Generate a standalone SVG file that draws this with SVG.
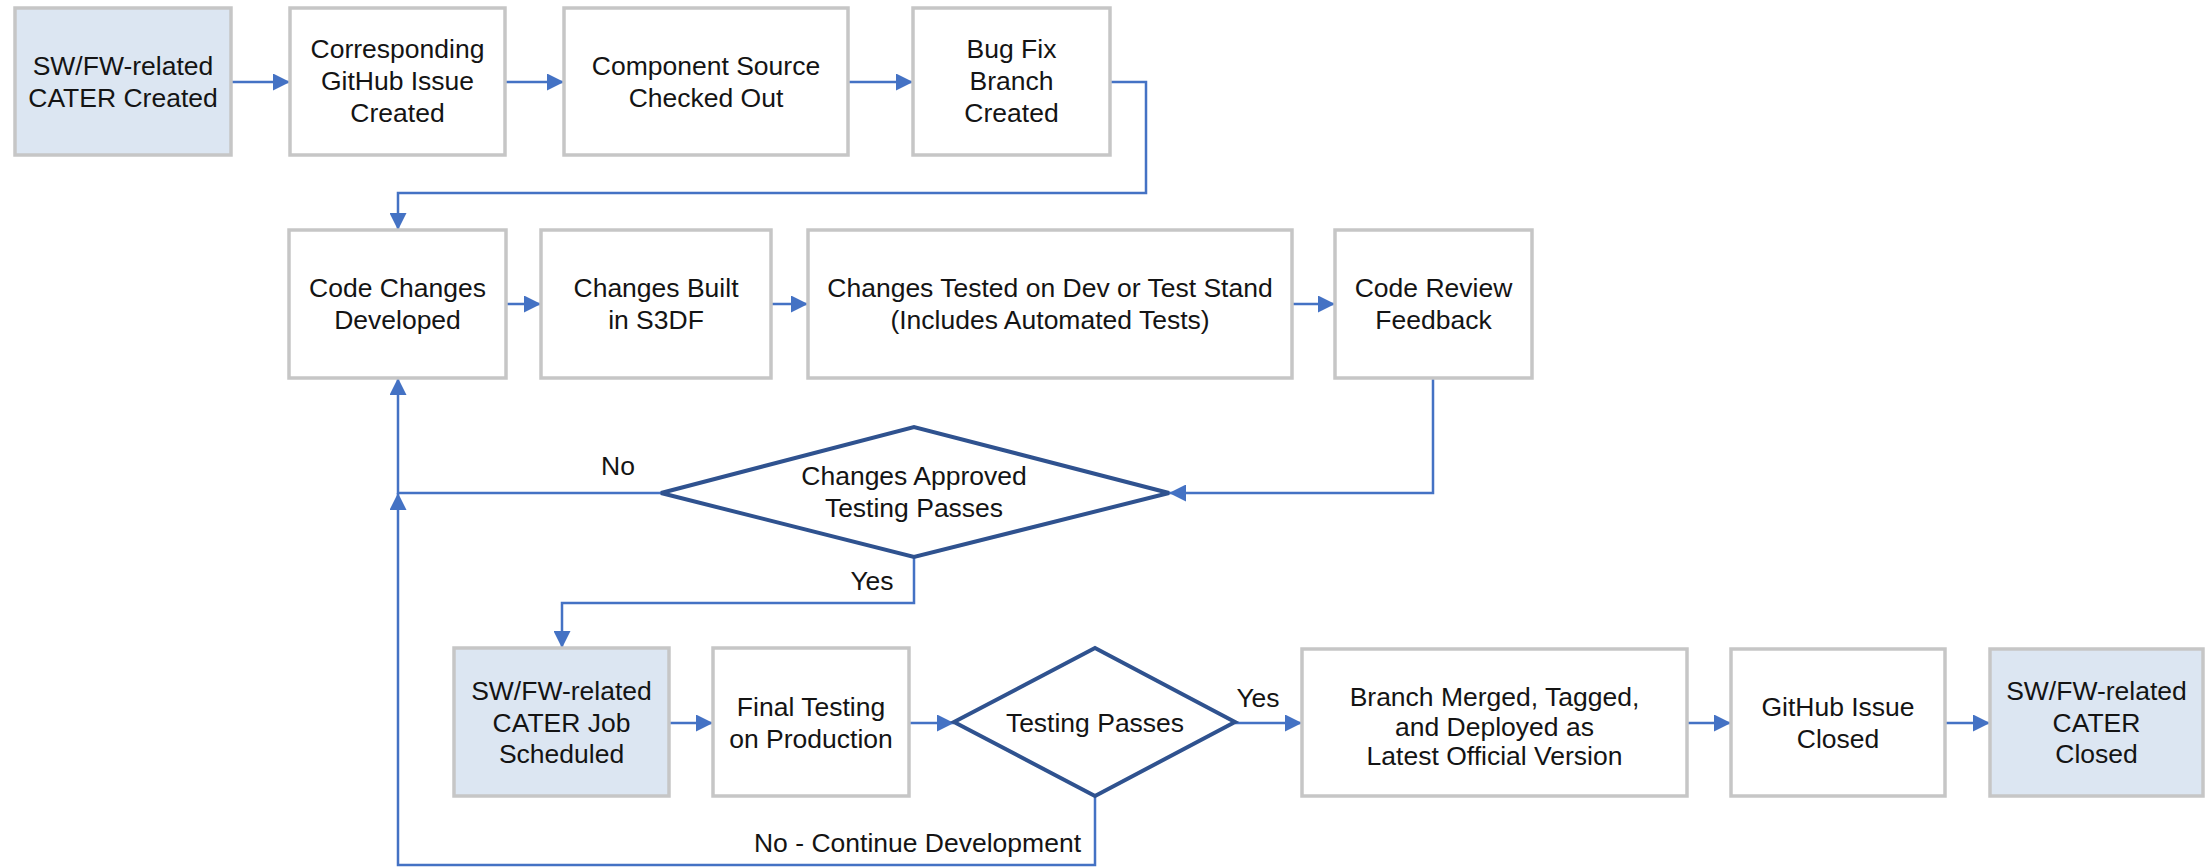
<svg xmlns="http://www.w3.org/2000/svg" width="2211" height="867" viewBox="0 0 2211 867">
  <style>
    .box { fill: #ffffff; stroke: #c6c6c6; stroke-width: 3.5; }
    .start { fill: #dce6f2; }
    .dec { fill: #ffffff; stroke: #2f528f; stroke-width: 4; stroke-linejoin: miter; }
    .lbl { font-family: "Liberation Sans", Arial, sans-serif; font-size: 26.5px; fill: #141414; text-anchor: middle; }
    .edge { fill: none; stroke: #4472c4; stroke-width: 2.5; }
    .arr { marker-end: url(#head); }
  </style>
  <defs>
    <marker id="head" markerUnits="userSpaceOnUse" markerWidth="17" markerHeight="17" refX="17" refY="8.5" orient="auto">
      <path d="M0,0 L17,8.5 L0,17 z" fill="#4472c4"/>
    </marker>
  </defs>
  <rect width="2211" height="867" fill="#ffffff"/>

  <!-- connectors -->
  <g id="connectors">
    <path class="edge arr" d="M231,82 H290"/>
    <path class="edge arr" d="M505,82 H564"/>
    <path class="edge arr" d="M848,82 H913"/>
    <path class="edge arr" d="M1110,82 H1146 V193 H398 V230"/>
    <path class="edge arr" d="M506,304 H541"/>
    <path class="edge arr" d="M771,304 H808"/>
    <path class="edge arr" d="M1292,304 H1335"/>
    <path class="edge arr" d="M1433,378 V493 H1169"/>
    <path class="edge arr" d="M661,493 H398 V378"/>
    <path class="edge arr" d="M914,557 V603 H562 V648"/>
    <path class="edge arr" d="M669,723 H713"/>
    <path class="edge arr" d="M909,723 H954"/>
    <path class="edge arr" d="M1235,723 H1302"/>
    <path class="edge arr" d="M1687,723 H1731"/>
    <path class="edge arr" d="M1945,723 H1990"/>
    <path class="edge arr" d="M1095,796 V865 H398 V493"/>
    <text class="lbl" x="618" y="475">No</text>
    <text class="lbl" x="872" y="590">Yes</text>
    <text class="lbl" x="1258" y="707">Yes</text>
    <text class="lbl" x="1081" y="852" style="text-anchor:end">No - Continue Development</text>
  </g>

  <!-- row 1 -->
  <g id="cater-created">
    <rect class="box start" x="15" y="8" width="216" height="147"/>
    <text class="lbl"><tspan x="123" y="75">SW/FW-related</tspan><tspan x="123" y="106.5">CATER Created</tspan></text>
  </g>
  <g id="issue-created">
    <rect class="box" x="290" y="8" width="215" height="147"/>
    <text class="lbl"><tspan x="397.5" y="58">Corresponding</tspan><tspan x="397.5" y="90">GitHub Issue</tspan><tspan x="397.5" y="122">Created</tspan></text>
  </g>
  <g id="source-checked-out">
    <rect class="box" x="564" y="8" width="284" height="147"/>
    <text class="lbl"><tspan x="706" y="75">Component Source</tspan><tspan x="706" y="106.5">Checked Out</tspan></text>
  </g>
  <g id="branch-created">
    <rect class="box" x="913" y="8" width="197" height="147"/>
    <text class="lbl"><tspan x="1011.5" y="58">Bug Fix</tspan><tspan x="1011.5" y="90">Branch</tspan><tspan x="1011.5" y="122">Created</tspan></text>
  </g>

  <!-- row 2 -->
  <g id="code-developed">
    <rect class="box" x="289" y="230" width="217" height="148"/>
    <text class="lbl"><tspan x="397.5" y="297">Code Changes</tspan><tspan x="397.5" y="328.5">Developed</tspan></text>
  </g>
  <g id="changes-built">
    <rect class="box" x="541" y="230" width="230" height="148"/>
    <text class="lbl"><tspan x="656" y="297">Changes Built</tspan><tspan x="656" y="328.5">in S3DF</tspan></text>
  </g>
  <g id="changes-tested">
    <rect class="box" x="808" y="230" width="484" height="148"/>
    <text class="lbl"><tspan x="1050" y="297">Changes Tested on Dev or Test Stand</tspan><tspan x="1050" y="328.5">(Includes Automated Tests)</tspan></text>
  </g>
  <g id="code-review">
    <rect class="box" x="1335" y="230" width="197" height="148"/>
    <text class="lbl"><tspan x="1433.5" y="297">Code Review</tspan><tspan x="1433.5" y="328.5">Feedback</tspan></text>
  </g>

  <!-- review decision -->
  <g id="approved-decision">
    <polygon class="dec" points="661,493 914,427 1169,493 914,557"/>
    <text class="lbl"><tspan x="914" y="485">Changes Approved</tspan><tspan x="914" y="517">Testing Passes</tspan></text>
  </g>

  <!-- row 3 -->
  <g id="job-scheduled">
    <rect class="box start" x="454" y="648" width="215" height="148"/>
    <text class="lbl"><tspan x="561.5" y="700">SW/FW-related</tspan><tspan x="561.5" y="732">CATER Job</tspan><tspan x="561.5" y="763">Scheduled</tspan></text>
  </g>
  <g id="final-testing">
    <rect class="box" x="713" y="648" width="196" height="148"/>
    <text class="lbl"><tspan x="811" y="716">Final Testing</tspan><tspan x="811" y="748">on Production</tspan></text>
  </g>
  <g id="testing-decision">
    <polygon class="dec" points="954,722 1095,648 1235,722 1095,796"/>
    <text class="lbl" x="1095" y="732">Testing Passes</text>
  </g>
  <g id="merged-deployed">
    <rect class="box" x="1302" y="649" width="385" height="147"/>
    <text class="lbl"><tspan x="1494.5" y="706">Branch Merged, Tagged,</tspan><tspan x="1494.5" y="736">and Deployed as</tspan><tspan x="1494.5" y="765">Latest Official Version</tspan></text>
  </g>
  <g id="issue-closed">
    <rect class="box" x="1731" y="649" width="214" height="147"/>
    <text class="lbl"><tspan x="1838" y="716">GitHub Issue</tspan><tspan x="1838" y="748">Closed</tspan></text>
  </g>
  <g id="cater-closed">
    <rect class="box start" x="1990" y="649" width="213" height="147"/>
    <text class="lbl"><tspan x="2096.5" y="700">SW/FW-related</tspan><tspan x="2096.5" y="732">CATER</tspan><tspan x="2096.5" y="763">Closed</tspan></text>
  </g>
</svg>
